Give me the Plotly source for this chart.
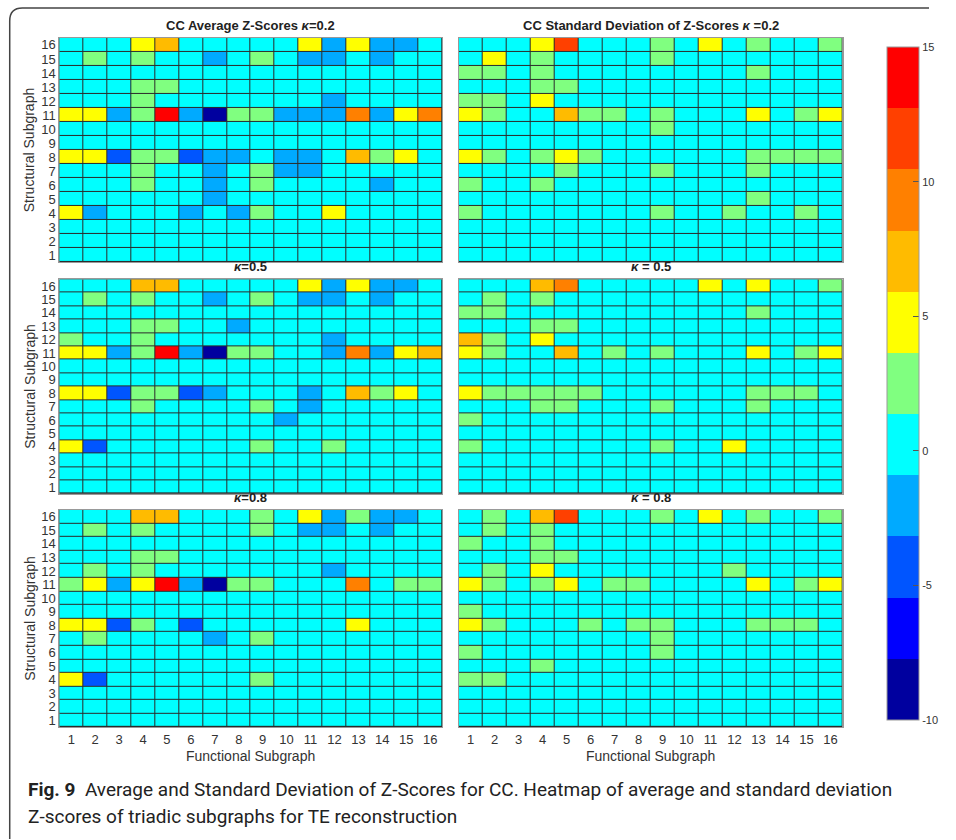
import plotly.graph_objects as go

W, H = 956, 840

functional = list(range(1, 17))
structural = list(range(16, 0, -1))  # rows listed top (16) to bottom (1)

# Values estimated from the colour bands (-10..15, 11 bands)
avg_k02 = [
    [0.2, 0.2, 0.2, 4.8, 7.0, 0.2, 0.2, 0.2, 0.2, 0.2, 4.8, -2.0, 4.8, -2.0, -2.0, 0.2],
    [0.2, 2.5, 0.2, 2.5, 0.2, 0.2, -2.0, 0.2, 2.5, 0.2, -2.0, -2.0, 0.2, -2.0, 0.2, 0.2],
    [0.2] * 16,
    [0.2, 0.2, 0.2, 2.5, 2.5, 0.2, 0.2, 0.2, 0.2, 0.2, 0.2, 0.2, 0.2, 0.2, 0.2, 0.2],
    [0.2, 0.2, 0.2, 2.5, 0.2, 0.2, 0.2, 0.2, 0.2, 0.2, 0.2, -2.0, 0.2, 0.2, 0.2, 0.2],
    [4.8, 4.8, -2.0, 2.5, 13.9, -2.0, -8.9, 2.5, 2.5, -2.0, -2.0, -2.0, 9.3, -2.0, 4.8, 9.3],
    [0.2] * 16,
    [0.2] * 16,
    [4.8, 4.8, -4.3, 2.5, 2.5, -4.3, -2.0, -2.0, 0.2, -2.0, -2.0, 0.2, 7.0, 2.5, 4.8, 0.2],
    [0.2, 0.2, 0.2, 2.5, 0.2, 0.2, -2.0, 0.2, 2.5, -2.0, -2.0, 0.2, 0.2, 0.2, 0.2, 0.2],
    [0.2, 0.2, 0.2, 2.5, 0.2, 0.2, -2.0, 0.2, 2.5, 0.2, 0.2, 0.2, 0.2, -2.0, 0.2, 0.2],
    [0.2, 0.2, 0.2, 0.2, 0.2, 0.2, -2.0, 0.2, 0.2, 0.2, 0.2, 0.2, 0.2, 0.2, 0.2, 0.2],
    [4.8, -2.0, 0.2, 0.2, 0.2, -2.0, 0.2, -2.0, 2.5, 0.2, 0.2, 4.8, 0.2, 0.2, 0.2, 0.2],
    [0.2] * 16,
    [0.2] * 16,
    [0.2] * 16,
]

sd_k02 = [
    [0.2, 0.2, 0.2, 4.8, 11.6, 0.2, 0.2, 0.2, 2.5, 0.2, 4.8, 0.2, 2.5, 0.2, 0.2, 2.5],
    [0.2, 4.8, 0.2, 2.5, 0.2, 0.2, 0.2, 0.2, 2.5, 0.2, 0.2, 0.2, 0.2, 0.2, 0.2, 0.2],
    [2.5, 2.5, 0.2, 2.5, 0.2, 0.2, 0.2, 0.2, 0.2, 0.2, 0.2, 0.2, 2.5, 0.2, 0.2, 0.2],
    [0.2, 0.2, 0.2, 2.5, 2.5, 0.2, 0.2, 0.2, 0.2, 0.2, 0.2, 0.2, 0.2, 0.2, 0.2, 0.2],
    [2.5, 2.5, 0.2, 4.8, 0.2, 0.2, 0.2, 0.2, 0.2, 0.2, 0.2, 0.2, 0.2, 0.2, 0.2, 0.2],
    [4.8, 2.5, 0.2, 0.2, 7.0, 2.5, 2.5, 0.2, 2.5, 0.2, 0.2, 0.2, 4.8, 0.2, 2.5, 4.8],
    [0.2, 0.2, 0.2, 0.2, 0.2, 0.2, 0.2, 0.2, 2.5, 0.2, 0.2, 0.2, 0.2, 0.2, 0.2, 0.2],
    [0.2] * 16,
    [4.8, 2.5, 0.2, 2.5, 4.8, 2.5, 0.2, 0.2, 0.2, 0.2, 0.2, 0.2, 2.5, 2.5, 2.5, 2.5],
    [0.2, 0.2, 0.2, 0.2, 2.5, 0.2, 0.2, 0.2, 2.5, 0.2, 0.2, 0.2, 2.5, 0.2, 0.2, 0.2],
    [2.5, 0.2, 0.2, 2.5, 0.2, 0.2, 0.2, 0.2, 0.2, 0.2, 0.2, 0.2, 0.2, 0.2, 0.2, 0.2],
    [0.2, 0.2, 0.2, 0.2, 0.2, 0.2, 0.2, 0.2, 0.2, 0.2, 0.2, 0.2, 2.5, 0.2, 0.2, 0.2],
    [2.5, 0.2, 0.2, 0.2, 0.2, 0.2, 0.2, 0.2, 2.5, 0.2, 0.2, 2.5, 0.2, 0.2, 2.5, 0.2],
    [0.2] * 16,
    [0.2] * 16,
    [0.2] * 16,
]

avg_k05 = [
    [0.2, 0.2, 0.2, 7.0, 7.0, 0.2, 0.2, 0.2, 0.2, 0.2, 4.8, -2.0, 4.8, -2.0, -2.0, 0.2],
    [0.2, 2.5, 0.2, 2.5, 0.2, 0.2, -2.0, 0.2, 2.5, 0.2, -2.0, -2.0, 0.2, -2.0, 0.2, 0.2],
    [0.2] * 16,
    [0.2, 0.2, 0.2, 2.5, 2.5, 0.2, 0.2, -2.0, 0.2, 0.2, 0.2, 0.2, 0.2, 0.2, 0.2, 0.2],
    [2.5, 0.2, 0.2, 2.5, 0.2, 0.2, 0.2, 0.2, 0.2, 0.2, 0.2, -2.0, 0.2, 0.2, 0.2, 0.2],
    [4.8, 4.8, -2.0, 2.5, 13.9, -2.0, -8.9, 2.5, 2.5, 0.2, 0.2, -2.0, 9.3, -2.0, 4.8, 7.0],
    [0.2] * 16,
    [0.2] * 16,
    [4.8, 4.8, -4.3, 2.5, 2.5, -4.3, -2.0, 0.2, 0.2, 0.2, -2.0, 0.2, 7.0, 2.5, 4.8, 0.2],
    [0.2, 0.2, 0.2, 2.5, 0.2, 0.2, 0.2, 0.2, 2.5, 0.2, -2.0, 0.2, 0.2, 0.2, 0.2, 0.2],
    [0.2, 0.2, 0.2, 0.2, 0.2, 0.2, 0.2, 0.2, 0.2, -2.0, 0.2, 0.2, 0.2, 0.2, 0.2, 0.2],
    [0.2] * 16,
    [4.8, -4.3, 0.2, 0.2, 0.2, 0.2, 0.2, 0.2, 2.5, 0.2, 0.2, 2.5, 0.2, 0.2, 0.2, 0.2],
    [0.2] * 16,
    [0.2] * 16,
    [0.2] * 16,
]

sd_k05 = [
    [0.2, 0.2, 0.2, 7.0, 9.3, 0.2, 0.2, 0.2, 0.2, 0.2, 4.8, 0.2, 4.8, 0.2, 0.2, 2.5],
    [0.2, 2.5, 0.2, 2.5, 0.2, 0.2, 0.2, 0.2, 0.2, 0.2, 0.2, 0.2, 0.2, 0.2, 0.2, 0.2],
    [2.5, 2.5, 0.2, 0.2, 0.2, 0.2, 0.2, 0.2, 0.2, 0.2, 0.2, 0.2, 2.5, 0.2, 0.2, 0.2],
    [0.2, 0.2, 0.2, 2.5, 2.5, 0.2, 0.2, 0.2, 0.2, 0.2, 0.2, 0.2, 0.2, 0.2, 0.2, 0.2],
    [7.0, 2.5, 0.2, 4.8, 0.2, 0.2, 0.2, 0.2, 0.2, 0.2, 0.2, 0.2, 0.2, 0.2, 0.2, 0.2],
    [4.8, 2.5, 0.2, 0.2, 7.0, 0.2, 2.5, 0.2, 2.5, 0.2, 0.2, 0.2, 4.8, 0.2, 2.5, 4.8],
    [0.2] * 16,
    [0.2] * 16,
    [4.8, 2.5, 2.5, 2.5, 2.5, 2.5, 0.2, 0.2, 0.2, 0.2, 0.2, 0.2, 2.5, 2.5, 2.5, 0.2],
    [0.2, 0.2, 0.2, 2.5, 2.5, 0.2, 0.2, 0.2, 2.5, 0.2, 0.2, 0.2, 2.5, 0.2, 0.2, 0.2],
    [2.5, 0.2, 0.2, 0.2, 0.2, 0.2, 0.2, 0.2, 0.2, 0.2, 0.2, 0.2, 0.2, 0.2, 0.2, 0.2],
    [0.2] * 16,
    [2.5, 0.2, 0.2, 0.2, 0.2, 0.2, 0.2, 0.2, 2.5, 0.2, 0.2, 4.8, 0.2, 0.2, 0.2, 0.2],
    [0.2] * 16,
    [0.2] * 16,
    [0.2] * 16,
]

avg_k08 = [
    [0.2, 0.2, 0.2, 7.0, 7.0, 0.2, 0.2, 0.2, 2.5, 0.2, 4.8, -2.0, 2.5, -2.0, -2.0, 0.2],
    [0.2, 2.5, 0.2, 2.5, 0.2, 0.2, 0.2, 0.2, 2.5, 0.2, -2.0, -2.0, 0.2, -2.0, 0.2, 0.2],
    [0.2] * 16,
    [0.2, 0.2, 0.2, 2.5, 2.5, 0.2, 0.2, 0.2, 0.2, 0.2, 0.2, 0.2, 0.2, 0.2, 0.2, 0.2],
    [0.2, 2.5, 0.2, 2.5, 0.2, 0.2, 0.2, 0.2, 0.2, 0.2, 0.2, -2.0, 0.2, 0.2, 0.2, 0.2],
    [2.5, 4.8, -2.0, 4.8, 13.9, -2.0, -8.9, 2.5, 2.5, 0.2, 0.2, 0.2, 9.3, 0.2, 2.5, 2.5],
    [0.2] * 16,
    [0.2] * 16,
    [4.8, 4.8, -4.3, 2.5, 0.2, -4.3, 0.2, 0.2, 0.2, 0.2, 0.2, 0.2, 4.8, 0.2, 0.2, 0.2],
    [0.2, 2.5, 0.2, 0.2, 0.2, 0.2, -2.0, 0.2, 2.5, 0.2, 0.2, 0.2, 0.2, 0.2, 0.2, 0.2],
    [0.2] * 16,
    [0.2] * 16,
    [4.8, -4.3, 0.2, 0.2, 0.2, 0.2, 0.2, 0.2, 2.5, 0.2, 0.2, 0.2, 0.2, 0.2, 0.2, 0.2],
    [0.2] * 16,
    [0.2] * 16,
    [0.2] * 16,
]

sd_k08 = [
    [0.2, 2.5, 0.2, 7.0, 11.6, 0.2, 0.2, 0.2, 2.5, 0.2, 4.8, 0.2, 2.5, 0.2, 0.2, 2.5],
    [0.2, 2.5, 0.2, 2.5, 0.2, 0.2, 0.2, 0.2, 0.2, 0.2, 0.2, 0.2, 0.2, 0.2, 0.2, 0.2],
    [2.5, 0.2, 0.2, 2.5, 0.2, 0.2, 0.2, 0.2, 0.2, 0.2, 0.2, 0.2, 0.2, 0.2, 0.2, 0.2],
    [0.2, 0.2, 0.2, 2.5, 2.5, 0.2, 0.2, 0.2, 0.2, 0.2, 0.2, 0.2, 0.2, 0.2, 0.2, 0.2],
    [0.2, 2.5, 0.2, 4.8, 0.2, 0.2, 0.2, 0.2, 0.2, 0.2, 0.2, 2.5, 0.2, 0.2, 0.2, 0.2],
    [4.8, 2.5, 0.2, 2.5, 4.8, 0.2, 2.5, 2.5, 0.2, 0.2, 0.2, 0.2, 4.8, 0.2, 2.5, 4.8],
    [0.2] * 16,
    [2.5, 0.2, 0.2, 0.2, 0.2, 0.2, 0.2, 0.2, 0.2, 0.2, 0.2, 0.2, 0.2, 0.2, 0.2, 0.2],
    [4.8, 2.5, 0.2, 0.2, 0.2, 2.5, 0.2, 2.5, 2.5, 0.2, 0.2, 0.2, 2.5, 2.5, 2.5, 0.2],
    [0.2, 0.2, 0.2, 0.2, 0.2, 0.2, 0.2, 0.2, 2.5, 0.2, 0.2, 0.2, 0.2, 0.2, 0.2, 0.2],
    [2.5, 0.2, 0.2, 0.2, 0.2, 0.2, 0.2, 0.2, 2.5, 0.2, 0.2, 0.2, 0.2, 0.2, 0.2, 0.2],
    [0.2, 0.2, 0.2, 2.5, 0.2, 0.2, 0.2, 0.2, 0.2, 0.2, 0.2, 0.2, 0.2, 0.2, 0.2, 0.2],
    [2.5, 2.5, 0.2, 0.2, 0.2, 0.2, 0.2, 0.2, 0.2, 0.2, 0.2, 0.2, 0.2, 0.2, 0.2, 0.2],
    [0.2] * 16,
    [0.2] * 16,
    [0.2] * 16,
]

panel_titles = [
    "<b>CC Average Z-Scores <i>κ</i>=0.2</b>",
    "<b>CC Standard Deviation of Z-Scores <i>κ</i> =0.2</b>",
    "<b><i>κ</i>=0.5</b>",
    "<b><i>κ</i> = 0.5</b>",
    "<b><i>κ</i>=0.8</b>",
    "<b><i>κ</i> = 0.8</b>",
]
panels = [avg_k02, sd_k02, avg_k05, sd_k05, avg_k08, sd_k08]

ZMIN, ZMAX = -10, 15
band_colors = ["#00009f", "#0000ff", "#0055ff", "#00aaff", "#00ffff", "#80ff80",
               "#ffff00", "#ffbb00", "#ff8000", "#ff4000", "#ff0000"]
nb = len(band_colors)
colorscale = []
for i, c in enumerate(band_colors):
    colorscale.append([i / nb, c])
    colorscale.append([(i + 1) / nb, c])


def px(x):
    return x / W


def py(y):
    return 1 - y / H


col_x = [(61, 455), (472, 867)]
row_y = [(37, 262), (279, 494), (510, 728)]

FONT = "Liberation Sans, Arial, sans-serif"
fig = go.Figure()
annotations = []
layout_axes = {}

for k, z in enumerate(panels):
    r, c = divmod(k, 2)
    idx = k + 1
    xa = "x" if idx == 1 else f"x{idx}"
    ya = "y" if idx == 1 else f"y{idx}"
    fig.add_trace(go.Heatmap(
        z=z, x=functional, y=structural, xaxis=xa, yaxis=ya,
        zmin=ZMIN, zmax=ZMAX, colorscale=colorscale,
        xgap=1, ygap=1, hoverinfo="skip",
        showscale=(k == 0),
        colorbar=dict(
            x=px(903), xanchor="left", y=py(383.5), yanchor="middle",
            lenmode="pixels", len=693, thickness=32, thicknessmode="pixels",
            tickvals=[15, 10, 5, 0, -5, -10], ticktext=["15", "10", "5", "0", "-5", "-10"],
            ticks="inside", ticklen=6, tickcolor="#555",
            outlinewidth=1, outlinecolor="#999",
            tickfont=dict(size=11, color="#333", family=FONT),
        ) if k == 0 else None,
    ))
    x0, x1 = col_x[c]
    y0, y1 = row_y[r]
    layout_axes["xaxis" if idx == 1 else f"xaxis{idx}"] = dict(
        domain=[px(x0), px(x1)], anchor=ya, range=[0.5, 16.5],
        tickvals=functional, showticklabels=(r == 2),
        ticks="", showgrid=False, zeroline=False,
        showline=True, mirror=True, linecolor="#999", linewidth=1,
        tickfont=dict(size=13, color="#333", family=FONT),
    )
    layout_axes["yaxis" if idx == 1 else f"yaxis{idx}"] = dict(
        domain=[py(y1), py(y0)], anchor=xa, range=[0.5, 16.5],
        tickvals=list(range(1, 17)), showticklabels=(c == 0),
        ticks="", showgrid=False, zeroline=False,
        showline=True, mirror=True, linecolor="#999", linewidth=1,
        tickfont=dict(size=13, color="#333", family=FONT),
    )
    # panel title
    annotations.append(dict(
        text=panel_titles[k], x=px((x0 + x1) / 2), y=py(y0 - 3),
        xref="paper", yref="paper", xanchor="center", yanchor="bottom",
        showarrow=False, font=dict(size=13, color="#222", family=FONT),
    ))
    if c == 0:
        annotations.append(dict(
            text="Structural Subgraph", x=px(30), y=py((y0 + y1) / 2),
            xref="paper", yref="paper", xanchor="center", yanchor="middle",
            textangle=-90, showarrow=False,
            font=dict(size=14, color="#333", family=FONT),
        ))
    if r == 2:
        annotations.append(dict(
            text="Functional Subgraph", x=px((x0 + x1) / 2), y=py(757),
            xref="paper", yref="paper", xanchor="center", yanchor="middle",
            showarrow=False, font=dict(size=14, color="#333", family=FONT),
        ))

CAP_FONT = "Liberation Sans Narrow, Roboto, sans-serif"
annotations.append(dict(
    text="<b>Fig. 9</b>  Average and Standard Deviation of Z-Scores for CC. Heatmap of average and standard deviation",
    x=px(27), y=py(790), xref="paper", yref="paper", xanchor="left", yanchor="middle",
    showarrow=False, font=dict(size=19, color="#222", family=CAP_FONT),
))
annotations.append(dict(
    text="Z-scores of triadic subgraphs for TE reconstruction",
    x=px(27), y=py(817), xref="paper", yref="paper", xanchor="left", yanchor="middle",
    showarrow=False, font=dict(size=19, color="#222", family=CAP_FONT),
))

frame_path = (f"M {px(10)},{py(840)} L {px(10)},{py(20)} "
              f"Q {px(10)},{py(7)} {px(23)},{py(7)} L {px(956)},{py(7)}")

fig.update_layout(
    width=W, height=H, margin=dict(l=0, r=0, t=0, b=0),
    paper_bgcolor="white", plot_bgcolor="#2b2b2b",
    showlegend=False, annotations=annotations,
    shapes=[dict(type="path", path=frame_path, xref="paper", yref="paper",
                 line=dict(color="#444", width=1.5))],
    **layout_axes,
)

fig.write_html("out.html")
